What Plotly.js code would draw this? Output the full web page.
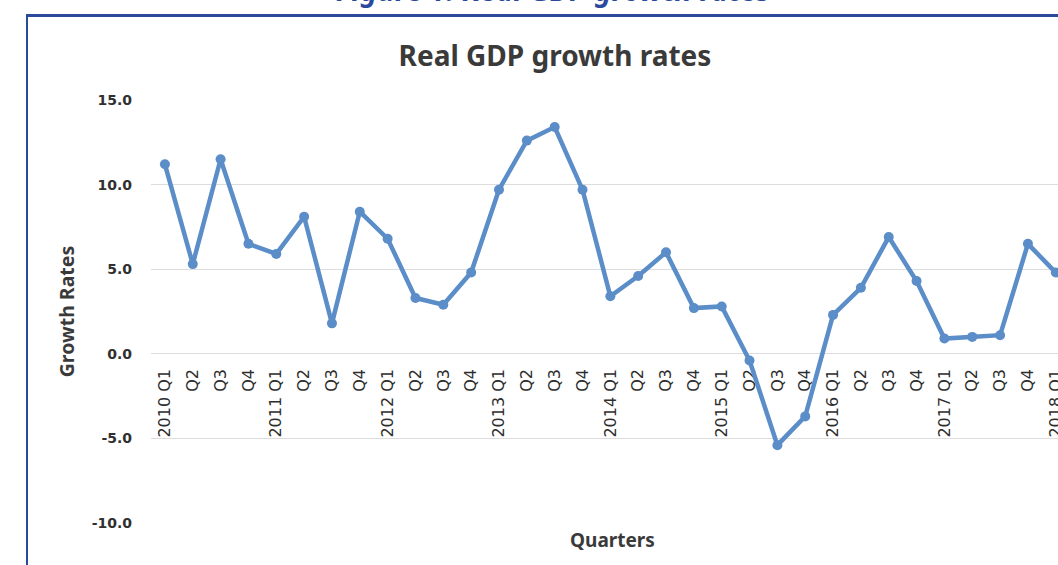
<!DOCTYPE html>
<html>
<head>
<meta charset="utf-8">
<script src="https://cdn.plot.ly/plotly-3.0.1.min.js"></script>
<style>
  html, body { margin: 0; padding: 0; background: #ffffff; overflow: hidden; }
  #wrap { position: relative; width: 1058px; height: 565px; }
  #frame { position: absolute; left: 26px; top: 14px; width: 1100px; height: 600px;
           border-top: 3px solid #2c4a9c; border-left: 2px solid #2c4a9c; box-sizing: border-box; }
  #chart { position: absolute; left: 0; top: 0; width: 1058px; height: 565px; }
</style>
</head>
<body>
<div id="wrap">
  <div id="frame"></div>
  <div id="chart"></div>
</div>
<script>
const years = ["2010","2011","2012","2013","2014","2015","2016","2017","2018"];
const quarters = ["Q1","Q2","Q3","Q4"];
const growthRates = [
  11.2, 5.3, 11.5, 6.5,
  5.9, 8.1, 1.8, 8.4,
  6.8, 3.3, 2.9, 4.8,
  9.7, 12.6, 13.4, 9.7,
  3.4, 4.6, 6.0, 2.7,
  2.8, -0.4, -5.4, -3.7,
  2.3, 3.9, 6.9, 4.3,
  0.9, 1.0, 1.1, 6.5,
  4.8
];
const yTicks = [-10, -5, 0, 5, 10, 15];

const categories = [];
const tickLabels = [];
for (let i = 0; i < growthRates.length; i++) {
  const y = years[Math.floor(i / 4)];
  const q = quarters[i % 4];
  categories.push(i);
  tickLabels.push(q === "Q1" ? y + " " + q : q);
}

const W = 1058, H = 565;
const m = { l: 151, r: 0, t: 100, b: 42 };
const plotW = W - m.l - m.r;
const plotH = H - m.t - m.b;
const yMin = -10, yMax = 15;
const zeroPos = (0 - yMin) / (yMax - yMin);
const px2x = px => (px - m.l) / plotW;
const py2y = py => (H - m.b - py) / plotH;

const trace = {
  x: categories,
  y: growthRates,
  type: "scatter",
  mode: "lines+markers",
  line: { color: "#5b8dc8", width: 4.5 },
  marker: { color: "#5b8dc8", size: 10 },
  cliponaxis: false,
  hoverinfo: "x+y"
};

const titleFont = "'Noto Sans', 'Open Sans', sans-serif";
const tickFont = "'DejaVu Sans', 'Noto Sans', sans-serif";

const layout = {
  width: W, height: H,
  margin: m,
  paper_bgcolor: "rgba(0,0,0,0)",
  plot_bgcolor: "rgba(0,0,0,0)",
  showlegend: false,
  font: { family: titleFont, color: "#404040" },
  title: {
    text: "<b>Real GDP growth rates</b>",
    font: { family: titleFont, size: 28, color: "#3a3a3a" },
    x: px2x(555), xanchor: "center", xref: "paper",
    y: 1 - 56 / H, yanchor: "middle", yref: "container"
  },
  xaxis: {
    type: "linear",
    range: [-0.5, 32.08],
    tickmode: "array",
    tickvals: categories,
    ticktext: tickLabels,
    tickangle: -90,
    tickfont: { family: tickFont, size: 16, color: "#2e2e2e" },
    ticklabeloverflow: "allow",
    ticklabelstandoff: 11,
    showgrid: false,
    zeroline: false,
    showline: false,
    ticks: "",
    anchor: "free",
    position: zeroPos,
    layer: "below traces",
    fixedrange: true
  },
  yaxis: {
    range: [yMin, yMax],
    tickmode: "array",
    tickvals: yTicks,
    ticktext: yTicks.map(v => v.toFixed(1)),
    tickfont: { family: tickFont, size: 14, color: "#303030", weight: "bold" },
    showgrid: true,
    gridcolor: "#dcdcdc",
    gridwidth: 1,
    zeroline: true,
    zerolinecolor: "#dcdcdc",
    zerolinewidth: 1,
    showline: false,
    ticks: "",
    ticklabelstandoff: 18,
    title: {
      text: "<b>Growth Rates</b>",
      font: { family: titleFont, size: 19.5, color: "#3a3a3a" },
      standoff: 11
    },
    fixedrange: true
  },
  annotations: [
    {
      text: "<b>Quarters</b>",
      xref: "paper", yref: "paper",
      x: px2x(612), y: py2y(540),
      xanchor: "center", yanchor: "middle",
      showarrow: false,
      font: { family: titleFont, size: 19, color: "#3a3a3a" }
    },
    {
      text: "<b><i>Figure 1: Real GDP growth rates</i></b>",
      xref: "paper", yref: "paper",
      x: px2x(553), y: py2y(11.2),
      xanchor: "center", yanchor: "bottom",
      showarrow: false,
      font: { family: titleFont, size: 29, color: "#2c4a9c" }
    }
  ]
};

Plotly.newPlot("chart", [trace], layout, { displayModeBar: false, staticPlot: true });
</script>
</body>
</html>
